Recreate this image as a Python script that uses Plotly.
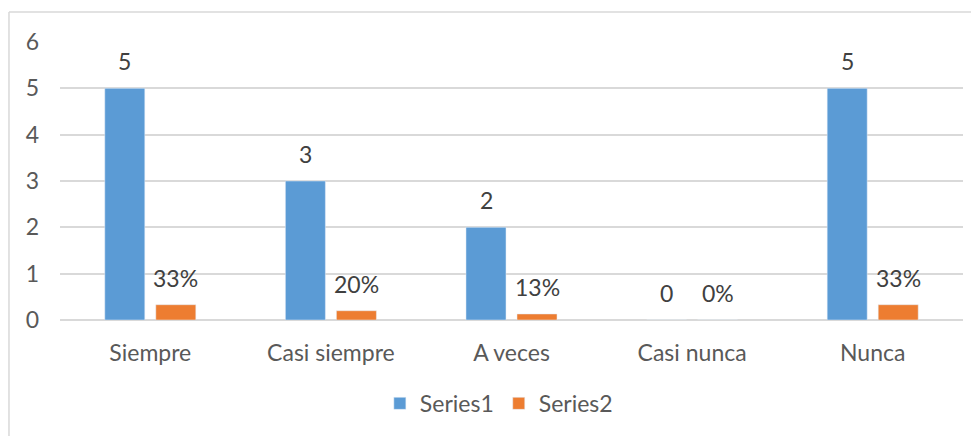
import plotly.graph_objects as go

categories = ["Siempre", "Casi siempre", "A veces", "Casi nunca", "Nunca"]
series1 = [5, 3, 2, 0, 5]
series2 = [0.33, 0.20, 0.13, 0.00, 0.33]
series2_labels = ["33%", "20%", "13%", "0%", "33%"]

BLUE = "#5B9BD5"
ORANGE = "#ED7D31"
GRID = "#D9D9D9"
FONT = "Lato, 'Open Sans', sans-serif"

fig = go.Figure()
fig.add_trace(go.Bar(name="Series1", x=categories, y=series1, marker_color=BLUE))
fig.add_trace(go.Bar(name="Series2", x=categories, y=series2, marker_color=ORANGE))

# data labels placed above each bar (offset to match the grouped bar positions)
for vals, texts, shift in [(series1, [str(v) for v in series1], -25.5),
                           (series2, series2_labels, 25.5)]:
    for cat, v, t in zip(categories, vals, texts):
        fig.add_annotation(x=cat, y=v, text=t, showarrow=False, xshift=shift, yshift=11,
                           yanchor="bottom", font=dict(size=23, color="#404040", family=FONT))

# chart frame (left and top edges visible)
fig.add_shape(type="line", xref="paper", yref="paper", x0=-0.0565, x1=1.03, y0=1.108, y1=1.108,
              line=dict(color=GRID, width=1.5))
fig.add_shape(type="line", xref="paper", yref="paper", x0=-0.0565, x1=-0.0565, y0=-0.45, y1=1.108,
              line=dict(color=GRID, width=1.5))

fig.update_layout(
    width=979, height=436,
    margin=dict(l=52, r=24, t=34, b=124),
    plot_bgcolor="#ffffff", paper_bgcolor="#ffffff",
    font=dict(family=FONT, size=23, color="#595959"),
    barmode="group", bargap=0.435, bargroupgap=0.216,
    showlegend=True,
    legend=dict(orientation="h", x=0.486, xanchor="center", y=-0.3, yanchor="middle",
                font=dict(size=23, color="#595959"), itemwidth=30),
)
fig.update_xaxes(showgrid=False, showline=False, ticks="", ticklabelstandoff=17)
fig.update_yaxes(range=[0, 6], dtick=1, showgrid=True, gridcolor=GRID, gridwidth=1.5,
                 zeroline=True, zerolinecolor=GRID, zerolinewidth=1.5,
                 showline=False, ticks="", ticklabelstandoff=20)

fig.write_html("out.html")
